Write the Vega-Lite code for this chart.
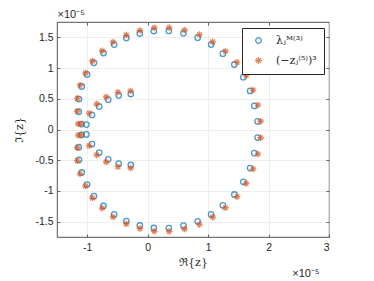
{
  "$schema": "https://vega.github.io/schema/vega-lite/v6.json",
  "width": 272,
  "height": 215,
  "autosize": {"type": "none"},
  "padding": {"left": 57, "top": 22, "right": 45, "bottom": 44},
  "background": "white",
  "config": {
    "view": {"stroke": "#262626", "strokeWidth": 0.8},
    "axis": {
      "labelFont": "Liberation Sans",
      "labelFontSize": 10.5,
      "labelColor": "#262626",
      "labelExpr": "datum.value + ''",
      "tickColor": "#262626",
      "tickSize": -3,
      "tickWidth": 0.7,
      "domain": false,
      "gridColor": "#e3e3e3",
      "gridWidth": 0.6,
      "titleColor": "#262626",
      "titleFontWeight": "normal"
    }
  },
  "datasets": {
    "pts": [
      {"s": "λⱼᴹ⁽³⁾", "x": -1.096, "y": 0.088}, {"s": "λⱼᴹ⁽³⁾", "x": -1.140, "y": 0.289}, {"s": "λⱼᴹ⁽³⁾", "x": -1.137, "y": 0.495},
      {"s": "λⱼᴹ⁽³⁾", "x": -1.091, "y": 0.700}, {"s": "λⱼᴹ⁽³⁾", "x": -1.003, "y": 0.896}, {"s": "λⱼᴹ⁽³⁾", "x": -0.889, "y": 1.085},
      {"s": "λⱼᴹ⁽³⁾", "x": -0.731, "y": 1.245}, {"s": "λⱼᴹ⁽³⁾", "x": -0.554, "y": 1.383}, {"s": "λⱼᴹ⁽³⁾", "x": -0.353, "y": 1.490},
      {"s": "λⱼᴹ⁽³⁾", "x": -0.130, "y": 1.563}, {"s": "λⱼᴹ⁽³⁾", "x": 0.101, "y": 1.603}, {"s": "λⱼᴹ⁽³⁾", "x": 0.350, "y": 1.604},
      {"s": "λⱼᴹ⁽³⁾", "x": 0.592, "y": 1.566}, {"s": "λⱼᴹ⁽³⁾", "x": 0.827, "y": 1.495}, {"s": "λⱼᴹ⁽³⁾", "x": 1.050, "y": 1.382},
      {"s": "λⱼᴹ⁽³⁾", "x": 1.244, "y": 1.235}, {"s": "λⱼᴹ⁽³⁾", "x": 1.434, "y": 1.058}, {"s": "λⱼᴹ⁽³⁾", "x": 1.583, "y": 0.852},
      {"s": "λⱼᴹ⁽³⁾", "x": 1.695, "y": 0.628}, {"s": "λⱼᴹ⁽³⁾", "x": 1.764, "y": 0.384}, {"s": "λⱼᴹ⁽³⁾", "x": 1.819, "y": 0.131},
      {"s": "λⱼᴹ⁽³⁾", "x": -1.096, "y": -0.088}, {"s": "λⱼᴹ⁽³⁾", "x": -1.140, "y": -0.289}, {"s": "λⱼᴹ⁽³⁾", "x": -1.137, "y": -0.495},
      {"s": "λⱼᴹ⁽³⁾", "x": -1.091, "y": -0.700}, {"s": "λⱼᴹ⁽³⁾", "x": -1.003, "y": -0.896}, {"s": "λⱼᴹ⁽³⁾", "x": -0.889, "y": -1.085},
      {"s": "λⱼᴹ⁽³⁾", "x": -0.731, "y": -1.245}, {"s": "λⱼᴹ⁽³⁾", "x": -0.554, "y": -1.383}, {"s": "λⱼᴹ⁽³⁾", "x": -0.353, "y": -1.490},
      {"s": "λⱼᴹ⁽³⁾", "x": -0.130, "y": -1.563}, {"s": "λⱼᴹ⁽³⁾", "x": 0.101, "y": -1.603}, {"s": "λⱼᴹ⁽³⁾", "x": 0.350, "y": -1.604},
      {"s": "λⱼᴹ⁽³⁾", "x": 0.592, "y": -1.566}, {"s": "λⱼᴹ⁽³⁾", "x": 0.827, "y": -1.495}, {"s": "λⱼᴹ⁽³⁾", "x": 1.050, "y": -1.382},
      {"s": "λⱼᴹ⁽³⁾", "x": 1.244, "y": -1.235}, {"s": "λⱼᴹ⁽³⁾", "x": 1.434, "y": -1.058}, {"s": "λⱼᴹ⁽³⁾", "x": 1.583, "y": -0.852},
      {"s": "λⱼᴹ⁽³⁾", "x": 1.695, "y": -0.628}, {"s": "λⱼᴹ⁽³⁾", "x": 1.764, "y": -0.384}, {"s": "λⱼᴹ⁽³⁾", "x": 1.819, "y": -0.131},
      {"s": "λⱼᴹ⁽³⁾", "x": -1.013, "y": 0.080}, {"s": "λⱼᴹ⁽³⁾", "x": -0.922, "y": 0.238}, {"s": "λⱼᴹ⁽³⁾", "x": -0.802, "y": 0.375},
      {"s": "λⱼᴹ⁽³⁾", "x": -0.653, "y": 0.486}, {"s": "λⱼᴹ⁽³⁾", "x": -0.479, "y": 0.555}, {"s": "λⱼᴹ⁽³⁾", "x": -0.279, "y": 0.578},
      {"s": "λⱼᴹ⁽³⁾", "x": -1.013, "y": -0.080}, {"s": "λⱼᴹ⁽³⁾", "x": -0.922, "y": -0.238}, {"s": "λⱼᴹ⁽³⁾", "x": -0.802, "y": -0.375},
      {"s": "λⱼᴹ⁽³⁾", "x": -0.653, "y": -0.486}, {"s": "λⱼᴹ⁽³⁾", "x": -0.479, "y": -0.555}, {"s": "λⱼᴹ⁽³⁾", "x": -0.279, "y": -0.578},
      {"s": "(−zⱼ⁽⁵⁾)³", "x": -1.149, "y": 0.093}, {"s": "(−zⱼ⁽⁵⁾)³", "x": -1.165, "y": 0.297}, {"s": "(−zⱼ⁽⁵⁾)³", "x": -1.162, "y": 0.507},
      {"s": "(−zⱼ⁽⁵⁾)³", "x": -1.119, "y": 0.721}, {"s": "(−zⱼ⁽⁵⁾)³", "x": -1.028, "y": 0.920}, {"s": "(−zⱼ⁽⁵⁾)³", "x": -0.914, "y": 1.115},
      {"s": "(−zⱼ⁽⁵⁾)³", "x": -0.752, "y": 1.282}, {"s": "(−zⱼ⁽⁵⁾)³", "x": -0.574, "y": 1.424}, {"s": "(−zⱼ⁽⁵⁾)³", "x": -0.353, "y": 1.536},
      {"s": "(−zⱼ⁽⁵⁾)³", "x": -0.129, "y": 1.612}, {"s": "(−zⱼ⁽⁵⁾)³", "x": 0.109, "y": 1.656}, {"s": "(−zⱼ⁽⁵⁾)³", "x": 0.356, "y": 1.659},
      {"s": "(−zⱼ⁽⁵⁾)³", "x": 0.609, "y": 1.620}, {"s": "(−zⱼ⁽⁵⁾)³", "x": 0.856, "y": 1.546}, {"s": "(−zⱼ⁽⁵⁾)³", "x": 1.076, "y": 1.426},
      {"s": "(−zⱼ⁽⁵⁾)³", "x": 1.285, "y": 1.274}, {"s": "(−zⱼ⁽⁵⁾)³", "x": 1.479, "y": 1.094}, {"s": "(−zⱼ⁽⁵⁾)³", "x": 1.629, "y": 0.878},
      {"s": "(−zⱼ⁽⁵⁾)³", "x": 1.743, "y": 0.642}, {"s": "(−zⱼ⁽⁵⁾)³", "x": 1.822, "y": 0.398}, {"s": "(−zⱼ⁽⁵⁾)³", "x": 1.868, "y": 0.134},
      {"s": "(−zⱼ⁽⁵⁾)³", "x": -1.149, "y": -0.093}, {"s": "(−zⱼ⁽⁵⁾)³", "x": -1.165, "y": -0.297}, {"s": "(−zⱼ⁽⁵⁾)³", "x": -1.162, "y": -0.507},
      {"s": "(−zⱼ⁽⁵⁾)³", "x": -1.119, "y": -0.721}, {"s": "(−zⱼ⁽⁵⁾)³", "x": -1.028, "y": -0.920}, {"s": "(−zⱼ⁽⁵⁾)³", "x": -0.914, "y": -1.115},
      {"s": "(−zⱼ⁽⁵⁾)³", "x": -0.752, "y": -1.282}, {"s": "(−zⱼ⁽⁵⁾)³", "x": -0.574, "y": -1.424}, {"s": "(−zⱼ⁽⁵⁾)³", "x": -0.353, "y": -1.536},
      {"s": "(−zⱼ⁽⁵⁾)³", "x": -0.129, "y": -1.612}, {"s": "(−zⱼ⁽⁵⁾)³", "x": 0.109, "y": -1.656}, {"s": "(−zⱼ⁽⁵⁾)³", "x": 0.356, "y": -1.659},
      {"s": "(−zⱼ⁽⁵⁾)³", "x": 0.609, "y": -1.620}, {"s": "(−zⱼ⁽⁵⁾)³", "x": 0.856, "y": -1.546}, {"s": "(−zⱼ⁽⁵⁾)³", "x": 1.076, "y": -1.426},
      {"s": "(−zⱼ⁽⁵⁾)³", "x": 1.285, "y": -1.274}, {"s": "(−zⱼ⁽⁵⁾)³", "x": 1.479, "y": -1.094}, {"s": "(−zⱼ⁽⁵⁾)³", "x": 1.629, "y": -0.878},
      {"s": "(−zⱼ⁽⁵⁾)³", "x": 1.743, "y": -0.642}, {"s": "(−zⱼ⁽⁵⁾)³", "x": 1.822, "y": -0.398}, {"s": "(−zⱼ⁽⁵⁾)³", "x": 1.868, "y": -0.134},
      {"s": "(−zⱼ⁽⁵⁾)³", "x": -1.102, "y": 0.090}, {"s": "(−zⱼ⁽⁵⁾)³", "x": -0.967, "y": 0.264}, {"s": "(−zⱼ⁽⁵⁾)³", "x": -0.843, "y": 0.413},
      {"s": "(−zⱼ⁽⁵⁾)³", "x": -0.686, "y": 0.529}, {"s": "(−zⱼ⁽⁵⁾)³", "x": -0.492, "y": 0.605}, {"s": "(−zⱼ⁽⁵⁾)³", "x": -0.282, "y": 0.628},
      {"s": "(−zⱼ⁽⁵⁾)³", "x": -1.102, "y": -0.090}, {"s": "(−zⱼ⁽⁵⁾)³", "x": -0.967, "y": -0.264}, {"s": "(−zⱼ⁽⁵⁾)³", "x": -0.843, "y": -0.413},
      {"s": "(−zⱼ⁽⁵⁾)³", "x": -0.686, "y": -0.529}, {"s": "(−zⱼ⁽⁵⁾)³", "x": -0.492, "y": -0.605}, {"s": "(−zⱼ⁽⁵⁾)³", "x": -0.282, "y": -0.628}
    ]
  },
  "data": {"name": "pts"},
  "layer": [
    {
      "mark": {"type": "point", "filled": false, "strokeWidth": 1.3, "size": 30},
      "encoding": {
        "x": {
          "field": "x", "type": "quantitative",
          "scale": {"domain": [-1.5, 3], "nice": false, "zero": false},
          "axis": {"orient": "bottom", "values": [-1, 0, 1, 2, 3], "grid": true, "labelPadding": 8,
                   "title": "ℜ{z}", "titleFont": "DejaVu Serif", "titleFontSize": 11, "titlePadding": 4}
        },
        "y": {
          "field": "y", "type": "quantitative",
          "scale": {"domain": [-1.75, 1.75], "nice": false, "zero": false},
          "axis": {"orient": "left", "values": [-1.5, -1, -0.5, 0, 0.5, 1, 1.5], "grid": true, "labelPadding": 7,
                   "title": "ℑ{z}", "titleFont": "DejaVu Serif", "titleFontSize": 11, "titlePadding": 10}
        },
        "color": {
          "field": "s", "type": "nominal",
          "scale": {"domain": ["λⱼᴹ⁽³⁾", "(−zⱼ⁽⁵⁾)³"], "range": ["#0072BD", "#D95319"]},
          "legend": {
            "orient": "none", "legendX": 185, "legendY": 6, "title": null,
            "strokeColor": "#262626", "fillColor": "white", "padding": 7,
            "symbolSize": 32, "symbolStrokeWidth": 1.3, "symbolOffset": 4,
            "labelFont": "DejaVu Serif", "labelFontSize": 11, "labelColor": "#262626",
            "labelOffset": 12, "rowPadding": 8
          }
        },
        "shape": {
          "field": "s", "type": "nominal",
          "scale": {"domain": ["λⱼᴹ⁽³⁾", "(−zⱼ⁽⁵⁾)³"],
                    "range": ["circle", "M-1.2,0L1.2,0M0,-1.2L0,1.2M-0.85,-0.85L0.85,0.85M-0.85,0.85L0.85,-0.85"]}
        }
      }
    },
    {
      "mark": {"type": "point", "opacity": 0},
      "encoding": {
        "x": {
          "field": "x", "type": "quantitative",
          "axis": {"orient": "top", "values": [-1, 0, 1, 2], "grid": false, "labels": false,
                   "title": "×10⁻⁵", "titleX": 0, "titleY": -8, "titleAngle": 0, "titleAlign": "left",
                   "titleBaseline": "middle", "titleFont": "Liberation Sans", "titleFontSize": 11}
        },
        "y": {
          "field": "y", "type": "quantitative",
          "axis": {"orient": "right", "values": [-1.5, -1, -0.5, 0, 0.5, 1, 1.5], "grid": false, "labels": false,
                   "title": "×10⁻⁵", "titleX": -10, "titleY": 251, "titleAngle": 0, "titleAlign": "right",
                   "titleBaseline": "middle", "titleFont": "Liberation Sans", "titleFontSize": 11}
        }
      }
    }
  ],
  "resolve": {"axis": {"x": "independent", "y": "independent"}}
}
